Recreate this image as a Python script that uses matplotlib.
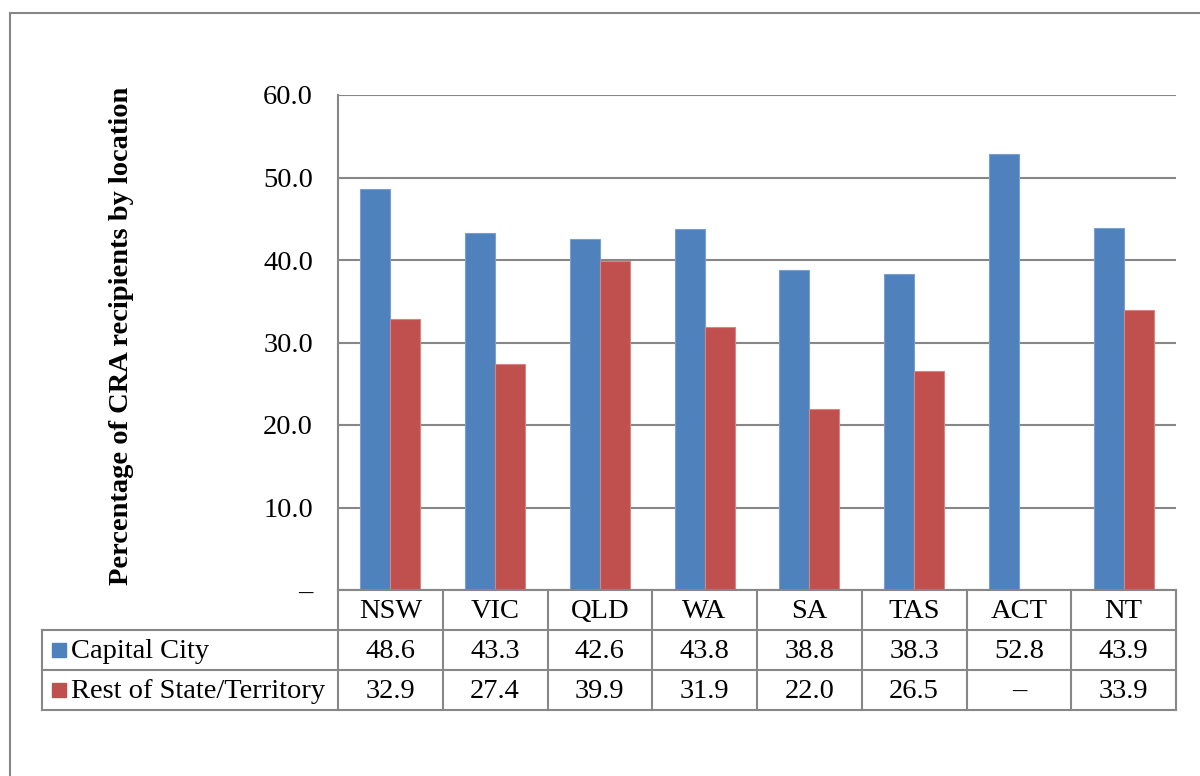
import matplotlib
matplotlib.use("Agg")
import matplotlib.pyplot as plt
from matplotlib.lines import Line2D
from matplotlib.patches import Rectangle

categories = ["NSW", "VIC", "QLD", "WA", "SA", "TAS", "ACT", "NT"]
capital_city = [48.6, 43.3, 42.6, 43.8, 38.8, 38.3, 52.8, 43.9]
rest_of_state = [32.9, 27.4, 39.9, 31.9, 22.0, 26.5, None, 33.9]
series_names = ["Capital City", "Rest of State/Territory"]
y_ticks = [0, 10, 20, 30, 40, 50, 60]
y_tick_labels = ["–", "10.0", "20.0", "30.0", "40.0", "50.0", "60.0"]
y_label = "Percentage of CRA recipients by location"

BLUE = "#4F81BD"
RED = "#C0504D"
GRID = "#878787"
FONT = "Liberation Serif"
FS = 20.5

W, H = 1200, 776
fig = plt.figure(figsize=(W / 100, H / 100), dpi=100)
fig.patch.set_facecolor("white")

def fx(px):
    return px / W

def fy(py):
    return 1 - py / H

# outer chart frame (extends off the image to the right and bottom)
fig.add_artist(Rectangle((fx(10), fy(800)), fx(1230) - fx(10), fy(13) - fy(800),
                         transform=fig.transFigure, fill=False, edgecolor=GRID, lw=1.5))

ax_l, ax_r, ax_t, ax_b = 338, 1176, 95, 590
ax = fig.add_axes([fx(ax_l), fy(ax_b), fx(ax_r) - fx(ax_l), fy(ax_t) - fy(ax_b)])
ax.set_xlim(-0.5, len(categories) - 0.5)
ax.set_ylim(0, 60)

bw = 0.286
xs = list(range(len(categories)))
cap_vals = capital_city
rest_vals = [v if v is not None else 0 for v in rest_of_state]
ax.bar([x - bw / 2 for x in xs], cap_vals, width=bw, color=BLUE, edgecolor="#7BA0CD", lw=0.8, zorder=3)
ax.bar([x + bw / 2 for x in xs], rest_vals, width=bw, color=RED, edgecolor="#D68583", lw=0.8, zorder=3)

ax.set_yticks(y_ticks)
ax.set_yticklabels(y_tick_labels, fontfamily=FONT, fontsize=FS)
ax.tick_params(axis="y", length=0, pad=18)
ax.set_xticks([])
ax.grid(axis="y", color=GRID, lw=1.5, zorder=0)
for s in ["top", "right", "bottom"]:
    ax.spines[s].set_visible(False)
ax.spines["left"].set_color(GRID)
ax.spines["left"].set_linewidth(1.5)

fig.text(fx(122), fy(336), y_label, rotation=90, ha="center", va="center",
         fontfamily=FONT, fontsize=FS, fontweight="bold")

# data table
fig.canvas.draw()
def col_px(x):
    disp = ax.transData.transform((x, 0))
    return disp[0]

row_y = [590, 630, 670, 710]
tbl_left = 42
bounds = [col_px(i - 0.5) for i in range(len(categories) + 1)]

def hline(y, x0, x1):
    fig.add_artist(Line2D([x0 / W, x1 / W], [fy(y), fy(y)], transform=fig.transFigure,
                          color=GRID, lw=1.5))

def vline(x, y0, y1):
    fig.add_artist(Line2D([x / W, x / W], [fy(y0), fy(y1)], transform=fig.transFigure,
                          color=GRID, lw=1.5))

hline(590, bounds[0], bounds[-1])
for y in row_y[1:]:
    hline(y, tbl_left, bounds[-1])
for b in bounds:
    vline(b, 590, 710)
vline(tbl_left, 630, 710)

def fmt(v):
    return "–" if v is None else f"{v:.1f}"

for i, cat in enumerate(categories):
    cx = (bounds[i] + bounds[i + 1]) / 2 / W
    fig.text(cx, fy(611), cat, ha="center", va="center", fontfamily=FONT, fontsize=FS)
    fig.text(cx, fy(651), fmt(capital_city[i]), ha="center", va="center", fontfamily=FONT, fontsize=FS)
    fig.text(cx, fy(691), fmt(rest_of_state[i]), ha="center", va="center", fontfamily=FONT, fontsize=FS)

for name, color, yc in [(series_names[0], BLUE, 650), (series_names[1], RED, 690)]:
    fig.add_artist(Rectangle((fx(52), fy(yc + 7)), fx(66) - fx(52), fy(yc - 7) - fy(yc + 7),
                             transform=fig.transFigure, color=color))
    fig.text(fx(71), fy(yc + 1), name, ha="left", va="center", fontfamily=FONT, fontsize=FS)

fig.savefig("out.png", dpi=100, facecolor="white")
